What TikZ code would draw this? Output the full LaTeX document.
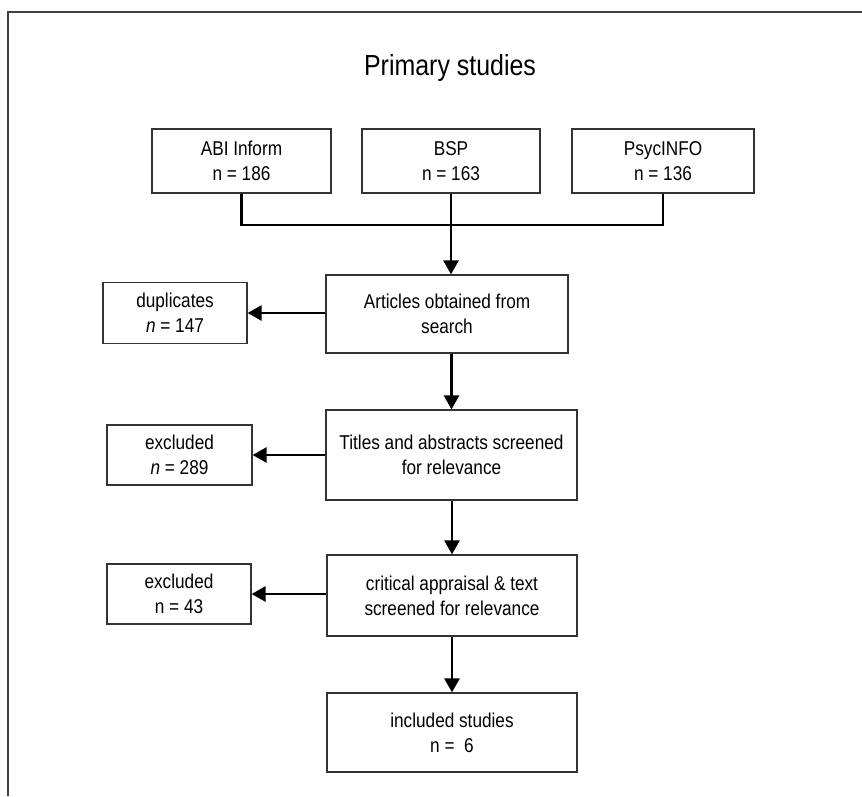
\documentclass[tikz,border=0pt]{standalone}
\usepackage{fontspec}
\setmainfont[FakeStretch=0.86]{Liberation Sans}
\usetikzlibrary{arrows.meta}
\begin{document}
\begin{tikzpicture}[x=1pt,y=-1pt,
  box/.style={draw=black!80, line width=1.2pt, align=center, inner sep=0pt,
    font=\fontsize{20}{25}\selectfont},
  conn/.style={line width=2.6pt, black},
  arr/.style={conn, -{Triangle[length=14pt,width=15pt]}},
  frame/.style={line width=2pt, black!75}]
\useasboundingbox (0,0) rectangle (862,796);
\fill[white] (0,0) rectangle (862,796);
% partial frame
\coordinate (fTR) at (862,11.5);
\coordinate (fTL) at (7.5,11.5);
\coordinate (fBL) at (7.5,796);
\draw[frame] (fTR) -- (fTL) -- (fBL);
% title
\node[font=\fontsize{29}{34}\selectfont] (title) at (450,68) {Primary studies};
% sources
\node[box, minimum width=179pt, minimum height=64pt] (abi) at (241.5,161) {ABI Inform\\n = 186};
\node[box, minimum width=178pt, minimum height=64pt] (bsp) at (451,161) {BSP\\n = 163};
\node[box, minimum width=182pt, minimum height=64pt] (psy) at (663,161) {PsycINFO\\n = 136};
% flow
\node[box, minimum width=242pt, minimum height=78pt] (art) at (447,314) {Articles obtained from\\search};
\node[box, minimum width=144pt, minimum height=61pt] (dup) at (175,313) {duplicates\\\textit{n} = 147};
\node[box, minimum width=251pt, minimum height=90pt] (tit) at (451.5,455) {Titles and abstracts screened\\for relevance};
\node[box, minimum width=145pt, minimum height=60pt] (ex1) at (179.5,455) {excluded\\\textit{n} = 289};
\node[box, minimum width=250pt, minimum height=81pt] (cri) at (452,595.5) {critical appraisal \& text\\screened for relevance};
\node[box, minimum width=144pt, minimum height=60pt] (ex2) at (179,594) {excluded\\n = 43};
\node[box, minimum width=250pt, minimum height=79pt] (inc) at (452,732.5) {included studies\\n =\ \ 6};
% connectors
\coordinate (hl) at (241.5,225);
\draw[conn] (abi.south) -- (abi.south |- hl) -- (psy.south |- hl) -- (psy.south);
\draw[arr] (bsp.south) -- (bsp.south |- art.north);
\draw[arr] (art.west |- dup.east) -- (dup.east);
\draw[arr] (tit.north |- art.south) -- (tit.north);
\draw[arr] (tit.west |- ex1.east) -- (ex1.east);
\draw[arr] (cri.north |- tit.south) -- (cri.north);
\draw[arr] (cri.west |- ex2.east) -- (ex2.east);
\draw[arr] (cri.south) -- (inc.north);
\end{tikzpicture}
\end{document}
